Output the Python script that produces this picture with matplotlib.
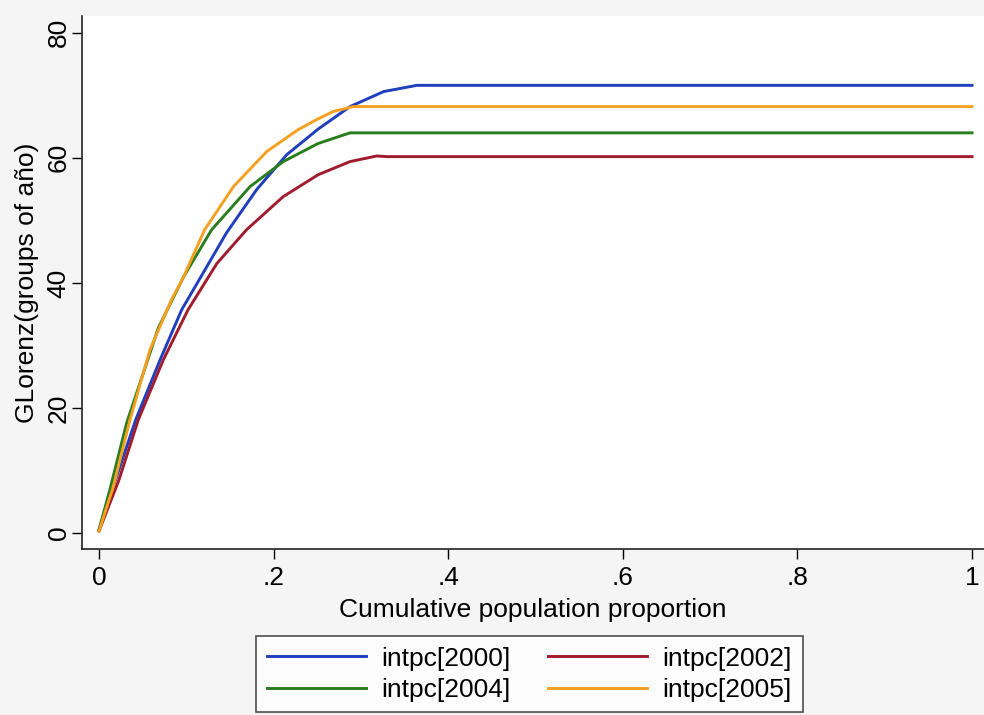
import matplotlib
matplotlib.use('Agg')
import matplotlib.pyplot as plt

plt.rcParams['font.family'] = ['Liberation Sans', 'DejaVu Sans']

# Generalized Lorenz curves
x_2000 = [0, 0.019, 0.042, 0.070, 0.0947, 0.116, 0.146, 0.181, 0.215, 0.251, 0.2875, 0.326, 0.364, 1.0]
y_2000 = [0.5, 8.5, 18.1, 27.7, 35.7, 40.8, 48.0, 55.0, 60.5, 64.6, 68.2, 70.6, 71.6, 71.6]

x_2002 = [0, 0.0229, 0.045, 0.0737, 0.102, 0.135, 0.169, 0.211, 0.251, 0.2875, 0.318, 0.33, 1.0]
y_2002 = [0.3, 8.5, 18.1, 27.7, 35.7, 43.1, 48.5, 53.8, 57.3, 59.4, 60.3, 60.2, 60.2]

x_2004 = [0, 0.0126, 0.0317, 0.068, 0.097, 0.129, 0.173, 0.211, 0.251, 0.2875, 0.30, 1.0]
y_2004 = [0.5, 7.0, 17.6, 32.8, 41.0, 48.5, 55.4, 59.4, 62.3, 64.0, 64.0, 64.0]

x_2005 = [0, 0.0164, 0.0355, 0.0584, 0.083, 0.097, 0.121, 0.154, 0.192, 0.228, 0.249, 0.268, 0.291, 1.0]
y_2005 = [0.3, 7.4, 18.1, 29.3, 37.3, 41.0, 48.5, 55.4, 61.0, 64.5, 66.1, 67.4, 68.2, 68.2]

labels = ['intpc[2000]', 'intpc[2002]', 'intpc[2004]', 'intpc[2005]']
colors = ['#1f3fbf', '#a01c2c', '#2a7d1e', '#f5a020']
xs_all = [x_2000, x_2002, x_2004, x_2005]
ys_all = [y_2000, y_2002, y_2004, y_2005]

fig = plt.figure(figsize=(9.84, 7.15), dpi=100, facecolor='#f5f5f5')
ax = fig.add_axes([0.0833, 0.2322, 0.9167, 0.7455])
ax.set_facecolor('white')

handles = []
for label, xs, ys, color in zip(labels, xs_all, ys_all, colors):
    line, = ax.plot(xs, ys, color=color, lw=2.1, label=label)
    handles.append(line)

ax.set_xlim(-0.0195, 1.0137)
ax.set_ylim(-2.56, 82.7)

ax.set_xticks([0, 0.2, 0.4, 0.6, 0.8, 1.0])
ax.set_xticklabels(['0', '.2', '.4', '.6', '.8', '1'])
ax.set_yticks([0, 20, 40, 60, 80])
ax.set_yticklabels(['0', '20', '40', '60', '80'], rotation=90, va='center')

ax.tick_params(direction='out', length=7, width=1, labelsize=19, colors='black')
ax.tick_params(axis='y', pad=1)
ax.tick_params(axis='x', pad=5)

for side in ['top', 'right']:
    ax.spines[side].set_visible(False)
for side in ['left', 'bottom']:
    ax.spines[side].set_linewidth(1.2)
    ax.spines[side].set_color('#222222')

ax.set_xlabel('Cumulative population proportion', fontsize=19, labelpad=6)
ax.set_ylabel('GLorenz(groups of año)', fontsize=19, labelpad=6)

# legend rows: 2000 | 2002 on top, 2004 | 2005 below (filled column-wise)
order = [0, 2, 1, 3]
leg = fig.legend([handles[i] for i in order], [labels[i] for i in order],
                 loc='upper center', bbox_to_anchor=(0.538, 0.1105), ncol=2,
                 fontsize=19, frameon=True, fancybox=False, handlelength=3.75,
                 columnspacing=1.4, handletextpad=0.6, borderpad=0.4,
                 labelspacing=0.28, borderaxespad=0)
leg.get_frame().set_edgecolor('#222222')
leg.get_frame().set_linewidth(1.2)
leg.get_frame().set_facecolor('white')

fig.savefig('out.png', dpi=100, facecolor=fig.get_facecolor())
